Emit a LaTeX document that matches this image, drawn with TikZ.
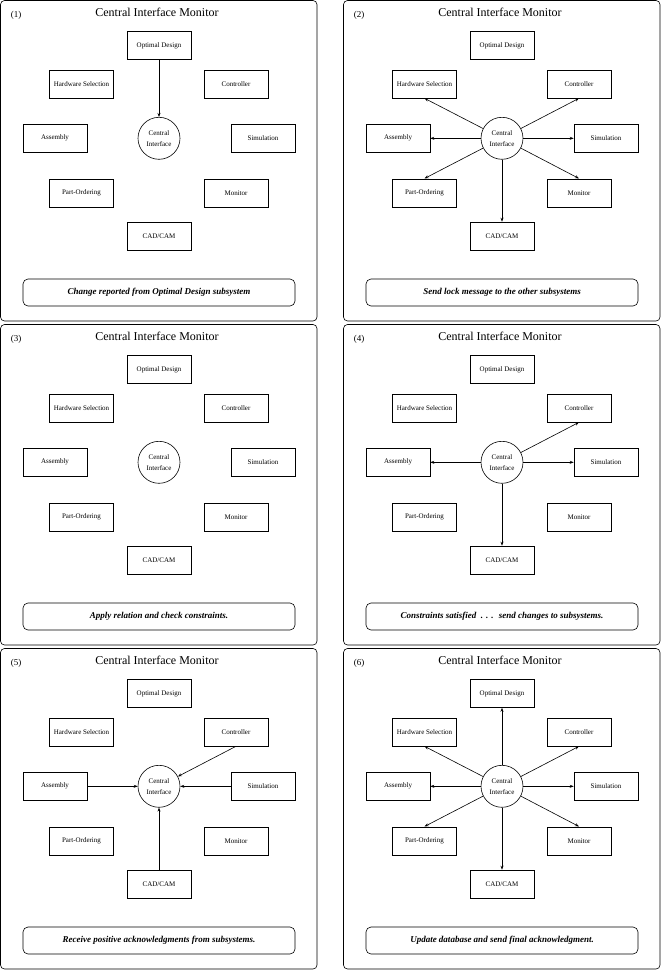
\documentclass[tikz,border=0pt]{standalone}
\usepackage{fontspec}
\setmainfont{Liberation Serif}
\usetikzlibrary{arrows.meta}
\tikzset{
  sub/.style={draw, line width=0.6pt, minimum width=64pt, minimum height=28pt, inner sep=0pt, font=\fontsize{7}{8}\selectfont},
  hub/.style={draw, circle, line width=0.6pt, minimum size=42pt, inner sep=0pt, align=center, font=\fontsize{7}{11}\selectfont},
  frame/.style={draw, rounded corners=4pt, line width=0.6pt},
  note/.style={draw, rounded corners=5pt, line width=0.6pt, minimum width=272pt, minimum height=27pt, inner sep=0pt, font=\fontsize{9}{11}\selectfont\bfseries\itshape},
  ttl/.style={font=\fontsize{12}{14}\selectfont, inner sep=0pt},
  num/.style={font=\fontsize{9}{11}\selectfont, inner sep=0pt},
  link/.style={line width=0.6pt, -{Stealth[length=4pt,width=3pt]}},
}
\newcommand\drawpanel[5]{%
\begin{scope}[shift={(#2,#3)}]
  \draw[frame] (0.5,0.5) rectangle (317,321);
  \node[num] (#1n) at (16,15.5) {(#4)};
  \node[ttl] (#1t) at (157,12.5) {Central Interface Monitor};
  \node[sub] (#1od) at (159,45.5) {Optimal Design};
  \node[sub] (#1hw) at (81.5,84) {Hardware Selection};
  \node[sub] (#1ct) at (236,84) {Controller};
  \node[sub] (#1as) at (55,138.3) {Assembly};
  \node[sub] (#1si) at (263,138.3) {Simulation};
  \node[hub] (#1ci) at (159,138.3) {Central\\Interface};
  \node[sub] (#1po) at (81.5,192.8) {Part-Ordering};
  \node[sub] (#1mo) at (236,192.8) {Monitor};
  \node[sub] (#1cc) at (159,236) {CAD/CAM};
  \node[note] (#1nt) at (159,292.5) {#5};
\end{scope}}
\begin{document}
\begin{tikzpicture}[x=1pt,y=-1pt]
\useasboundingbox (0,0) rectangle (662,972);
\drawpanel{a}{0}{0}{1}{Change reported from Optimal Design subsystem}
\drawpanel{b}{343}{0}{2}{Send lock message to the other subsystems}
\drawpanel{c}{0}{324}{3}{Apply relation and check constraints.}
\drawpanel{d}{343}{324}{4}{Constraints satisfied \ . . . \ send changes to subsystems.}
\drawpanel{e}{0}{648}{5}{Receive positive acknowledgments from subsystems.}
\drawpanel{f}{343}{648}{6}{Update database and send final acknowledgment.}
% panel 1
\draw[link] (aod) -- (aci);
% panel 2
\draw[link] (bci) -- (bhw.south);
\draw[link] (bci) -- (bct.south);
\draw[link] (bci) -- (bas.east);
\draw[link] (bci) -- (bsi.west);
\draw[link] (bci) -- (bpo.north);
\draw[link] (bci) -- (bmo.north);
\draw[link] (bci) -- (bcc.north);
% panel 4
\draw[link] (dci) -- (dct.south);
\draw[link] (dci) -- (das.east);
\draw[link] (dci) -- (dsi.west);
\draw[link] (dci) -- (dcc.north);
% panel 5
\draw[link] (ect.south) -- (eci);
\draw[link] (eas.east) -- (eci);
\draw[link] (esi.west) -- (eci);
\draw[link] (ecc.north) -- (eci);
% panel 6
\draw[link] (fci) -- (fod.south);
\draw[link] (fci) -- (fhw.south);
\draw[link] (fci) -- (fct.south);
\draw[link] (fci) -- (fas.east);
\draw[link] (fci) -- (fsi.west);
\draw[link] (fci) -- (fpo.north);
\draw[link] (fci) -- (fmo.north);
\draw[link] (fci) -- (fcc.north);
\end{tikzpicture}
\end{document}
